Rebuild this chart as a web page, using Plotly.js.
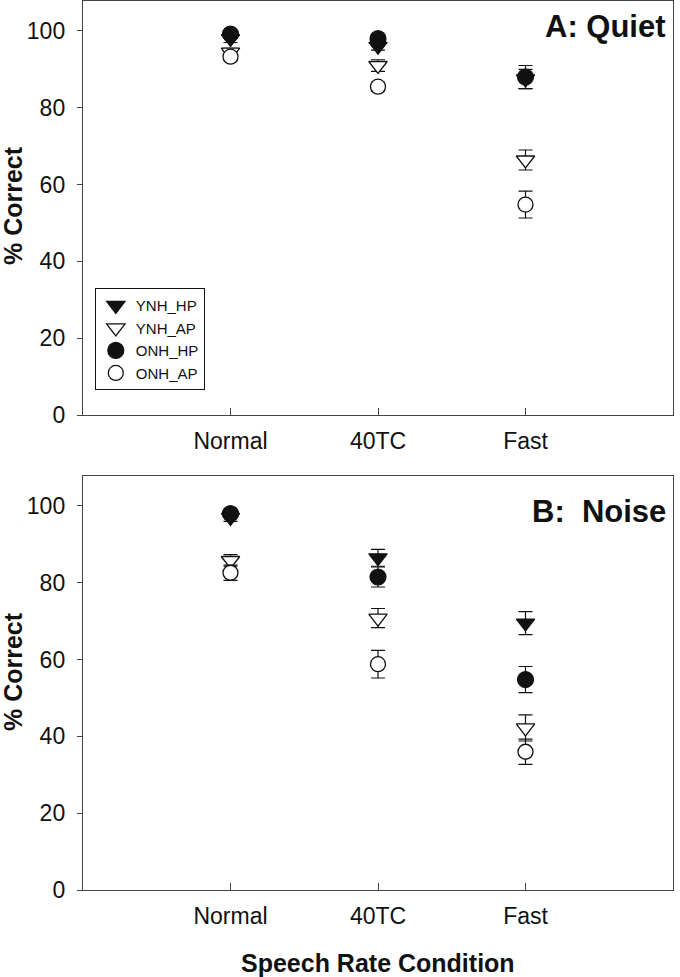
<!DOCTYPE html>
<html>
<head>
<meta charset="utf-8">
<script src="https://cdn.plot.ly/plotly-3.0.1.min.js"></script>
<style>html,body{margin:0;padding:0;background:#fff;}#chart{width:680px;height:977px;}</style>
</head>
<body>
<div id="chart"></div>
<script>
// Categories
var conditions = ['Normal', '40TC', 'Fast'];
var xPos = [1, 2, 3];
var seriesNames = ['YNH_HP', 'YNH_AP', 'ONH_HP', 'ONH_AP'];

// Panel A: Quiet (mean % correct and error)
var quietYNH_HP = [98.0, 96.0, 87.5];
var quietYNH_HP_err = [1.0, 1.0, 2.5];
var quietYNH_AP = [94.5, 91.0, 66.4];
var quietYNH_AP_err = [1.0, 1.5, 2.6];
var quietONH_HP = [99.2, 98.0, 88.0];
var quietONH_HP_err = [1.0, 1.0, 3.0];
var quietONH_AP = [93.3, 85.5, 54.8];
var quietONH_AP_err = [1.0, 1.2, 3.5];

// Panel B: Noise
var noiseYNH_HP = [97.0, 86.5, 69.5];
var noiseYNH_HP_err = [1.0, 2.2, 3.0];
var noiseYNH_AP = [85.8, 70.8, 42.2];
var noiseYNH_AP_err = [1.5, 2.5, 3.4];
var noiseONH_HP = [98.0, 81.5, 54.8];
var noiseONH_HP_err = [1.0, 2.6, 3.4];
var noiseONH_AP = [82.6, 58.8, 36.0];
var noiseONH_AP_err = [2.0, 3.6, 3.3];

var yTicks = [0, 20, 40, 60, 80, 100];

var styles = [
  {symbol: 'triangle-down', color: '#111', line: {color: '#111', width: 1.2}, size: 16},
  {symbol: 'triangle-down', color: '#fff', line: {color: '#111', width: 1.3}, size: 16},
  {symbol: 'circle', color: '#111', line: {color: '#111', width: 1.2}, size: 16},
  {symbol: 'circle', color: '#fff', line: {color: '#111', width: 1.3}, size: 15}
];

function mk(name, y, err, st, xa, ya, showleg) {
  return {
    type: 'scatter', mode: 'markers', name: name,
    x: xPos, y: y, xaxis: xa, yaxis: ya, showlegend: showleg,
    marker: {symbol: st.symbol, color: st.color, size: st.size, line: st.line},
    error_y: {type: 'data', array: err, visible: true, color: '#111', thickness: 1.2, width: 7}
  };
}

var quiet = [[quietYNH_HP, quietYNH_HP_err], [quietYNH_AP, quietYNH_AP_err], [quietONH_HP, quietONH_HP_err], [quietONH_AP, quietONH_AP_err]];
var noise = [[noiseYNH_HP, noiseYNH_HP_err], [noiseYNH_AP, noiseYNH_AP_err], [noiseONH_HP, noiseONH_HP_err], [noiseONH_AP, noiseONH_AP_err]];

var data = [];
for (var i = 0; i < 4; i++) data.push(mk(seriesNames[i], quiet[i][0], quiet[i][1], styles[i], 'x', 'y', true));
for (var j = 0; j < 4; j++) data.push(mk(seriesNames[j], noise[j][0], noise[j][1], styles[j], 'x2', 'y2', false));

var font = 'Liberation Sans, Arial, sans-serif';
var tickFont = {family: font, size: 23, color: '#111'};

function xax(anchor) {
  return {
    anchor: anchor, domain: [0, 1], range: [0, 4],
    tickmode: 'array', tickvals: xPos, ticktext: conditions,
    ticks: 'inside', ticklen: 7, tickcolor: '#444', tickwidth: 1,
    showline: true, linecolor: '#444', linewidth: 1.2, mirror: true,
    showgrid: false, zeroline: false, tickfont: tickFont, ticklabelstandoff: 5
  };
}
function yax(anchor, dom) {
  return {
    anchor: anchor, domain: dom, range: [0, 107.8],
    tickmode: 'array', tickvals: yTicks,
    ticks: 'outside', ticklen: 5, tickcolor: '#444', tickwidth: 1,
    showline: true, linecolor: '#444', linewidth: 1.2, mirror: true,
    showgrid: false, zeroline: false, tickfont: tickFont, ticklabelstandoff: 7
  };
}

var layout = {
  width: 680, height: 977,
  margin: {l: 83, r: 7, t: 1, b: 87},
  paper_bgcolor: '#fff', plot_bgcolor: '#fff',
  showlegend: true,
  legend: {
    x: 0.02, y: 0.677, xanchor: 'left', yanchor: 'top',
    bordercolor: '#111', borderwidth: 1, bgcolor: '#fff',
    font: {family: font, size: 15, color: '#111'},
    tracegroupgap: 0, itemsizing: 'trace'
  },
  xaxis: xax('y'),
  yaxis: yax('x', [0.5343, 1]),
  xaxis2: xax('y2'),
  yaxis2: yax('x2', [0, 0.4657]),
  annotations: [
    {text: '<b>A: Quiet</b>', xref: 'paper', yref: 'paper', x: 0.9915, y: 0.9708, xanchor: 'right', yanchor: 'middle', showarrow: false, font: {family: font, size: 31, color: '#111'}},
    {text: '<b>B:\u00A0 Noise</b>', xref: 'paper', yref: 'paper', x: 0.9915, y: 0.4252, xanchor: 'right', yanchor: 'middle', showarrow: false, font: {family: font, size: 31, color: '#111'}},
    {text: '<b>% Correct</b>', xref: 'paper', yref: 'paper', x: -0.1186, y: 0.7694, xanchor: 'center', yanchor: 'middle', textangle: -90, showarrow: false, font: {family: font, size: 25, color: '#111'}},
    {text: '<b>% Correct</b>', xref: 'paper', yref: 'paper', x: -0.1186, y: 0.2452, xanchor: 'center', yanchor: 'middle', textangle: -90, showarrow: false, font: {family: font, size: 25, color: '#111'}},
    {text: '<b>Speech Rate Condition</b>', xref: 'paper', yref: 'paper', x: 0.5, y: -0.0821, xanchor: 'center', yanchor: 'middle', showarrow: false, font: {family: font, size: 25, color: '#111'}}
  ]
};

Plotly.newPlot('chart', data, layout, {displayModeBar: false, staticPlot: true});
</script>
</body>
</html>
